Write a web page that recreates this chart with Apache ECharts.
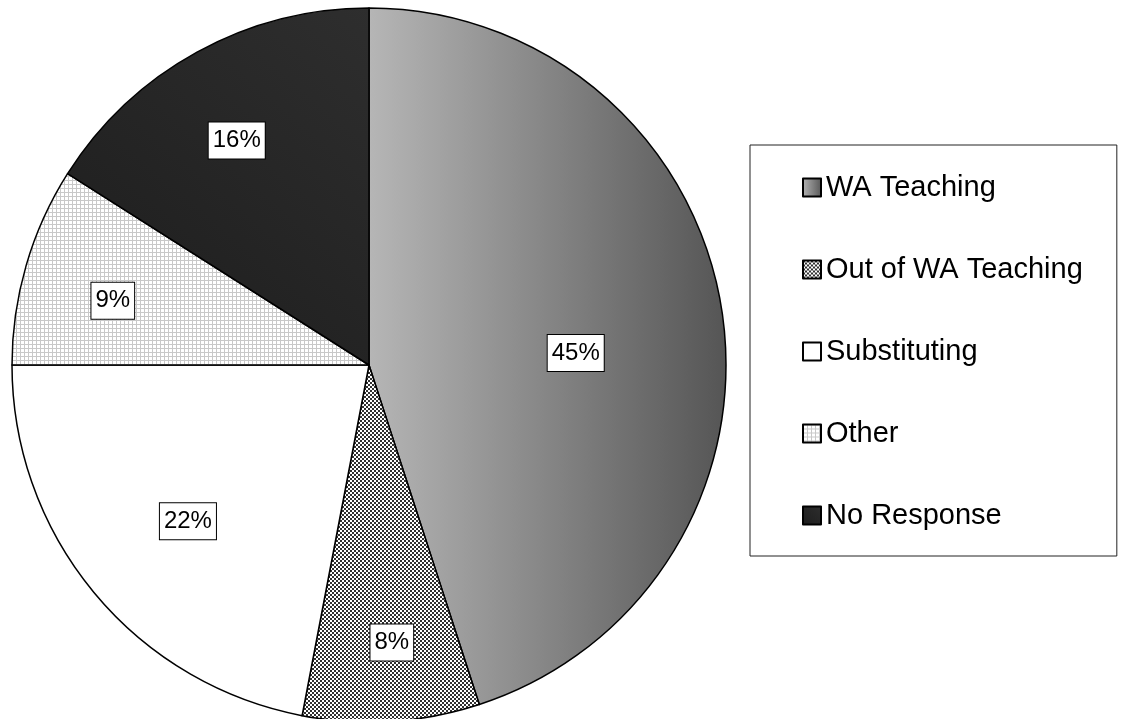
<!DOCTYPE html>
<html>
<head>
<meta charset="utf-8">
<script src="https://cdn.jsdelivr.net/npm/echarts@6/dist/echarts.min.js"></script>
<style>
html,body{margin:0;padding:0;background:#fff;}
#chart{width:1125px;height:719px;}
</style>
</head>
<body>
<div id="chart"></div>
<script>
// ---- data ----
var categories = ['WA Teaching', 'Out of WA Teaching', 'Substituting', 'Other', 'No Response'];
var values = [45, 8, 22, 9, 16];

// ---- label placement styling (radial fraction + angular nudge, degrees) ----
var labelRadiusFrac = [0.58, 0.78, 0.67, 0.74, 0.73];
var labelAngleShift = [5.7, -1.1, -1.2, -2.1, -1.7];

var CX = 369, CY = 365, R = 357;
var FONT = "'Liberation Sans', Arial, sans-serif";

function checkerPattern() {
  var c = document.createElement('canvas');
  c.width = 4; c.height = 4;
  var g = c.getContext('2d');
  g.fillStyle = '#ffffff'; g.fillRect(0, 0, 4, 4);
  g.fillStyle = '#303030';
  g.fillRect(0, 0, 2, 2); g.fillRect(2, 2, 2, 2);
  return { image: c, repeat: 'repeat' };
}
function gridPattern() {
  var c = document.createElement('canvas');
  c.width = 4; c.height = 4;
  var g = c.getContext('2d');
  g.fillStyle = '#ffffff'; g.fillRect(0, 0, 4, 4);
  g.fillStyle = '#c8c8c8';
  g.fillRect(0, 0, 4, 1); g.fillRect(0, 0, 1, 4);
  return { image: c, repeat: 'repeat' };
}

var fills = [
  { type: 'linear', x: 0, y: 0, x2: 1, y2: 0,
    colorStops: [{ offset: 0, color: '#b6b6b6' }, { offset: 1, color: '#555555' }] },
  checkerPattern(),
  '#ffffff',
  gridPattern(),
  { type: 'linear', x: 0, y: 1, x2: 1, y2: 0,
    colorStops: [{ offset: 0, color: '#1c1c1c' }, { offset: 1, color: '#2e2e2e' }] }
];

var total = values.reduce(function (a, b) { return a + b; }, 0);
var cum = [];
(function () { var s = 0; for (var i = 0; i < values.length; i++) { cum.push(s); s += values[i]; } })();

var chart = echarts.init(document.getElementById('chart'), null, { renderer: 'canvas' });
chart.setOption({
  backgroundColor: '#ffffff',
  animation: false,
  legend: {
    orient: 'vertical',
    left: 750,
    top: 145,
    padding: [28, 34, 26, 52],
    borderColor: '#222',
    borderWidth: 1,
    itemWidth: 18,
    itemHeight: 18,
    itemGap: 53,
    icon: 'rect',
    selectedMode: false,
    textStyle: { fontSize: 29, color: '#000', fontFamily: FONT },
    data: categories
  },
  series: [{
    type: 'pie',
    center: [CX, CY],
    radius: R,
    startAngle: 90,
    clockwise: true,
    avoidLabelOverlap: false,
    itemStyle: { borderColor: '#000', borderWidth: 1.5 },
    label: {
      show: true,
      position: 'inside',
      formatter: function (p) { return p.value + '%'; },
      fontSize: 24,
      fontFamily: FONT,
      color: '#000',
      backgroundColor: '#fff',
      borderColor: '#000',
      borderWidth: 1,
      padding: [7, 4, 5, 4]
    },
    labelLine: { show: false },
    labelLayout: function (params) {
      var i = params.dataIndex;
      var mid = (cum[i] + values[i] / 2) / total * 360 + labelAngleShift[i];
      var rad = mid * Math.PI / 180;
      var d = R * labelRadiusFrac[i];
      return {
        x: CX + d * Math.sin(rad),
        y: CY - d * Math.cos(rad),
        align: 'center',
        verticalAlign: 'middle'
      };
    },
    emphasis: { disabled: true },
    data: categories.map(function (name, i) {
      return { name: name, value: values[i], itemStyle: { color: fills[i] } };
    })
  }]
});
</script>
</body>
</html>
